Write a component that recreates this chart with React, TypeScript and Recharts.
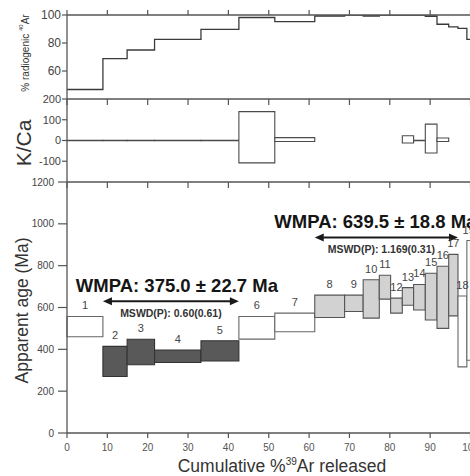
import { ComposedChart, Line, XAxis, YAxis, ReferenceArea, ReferenceLine } from 'recharts';

// heating steps: cumulative %39Ar at the start of each step
const stepStart = [0, 8.9, 14.9, 21.7, 33.2, 42.6, 51.5, 61.4, 68.8, 73.4, 77.4, 80.2, 83.1, 85.9, 88.8, 91.7, 94.6, 96.9, 99.1];
const releaseEnd = 100;
const stepEnd = [...stepStart.slice(1), releaseEnd];

// % radiogenic 40Ar per step
const radiogenic = [46.8, 68.9, 75, 82.6, 89.7, 98.2, 95.3, 99.2, 100, 99.3, 100, 100, 100, 100, 99.0, 93.4, 91.5, 90.4, 82.6];

// K/Ca error boxes (null = not shown)
const kcaLo = [-1, -1, -1, -1, -1, -108, -5, null, null, null, null, null, -12, -1, -60, -5, null, null, null];
const kcaHi = [1, 1, 1, 1, 1, 139, 14, null, null, null, null, null, 23, 1, 79, 12, null, null, null];

// apparent age boxes (Ma)
const ageLo = [460, 270, 326, 337, 345, 449, 484, 552, 581, 549, 640, 573, 611, 588, 540, 500, 560, 316, 348];
const ageHi = [557, 414, 448, 397, 441, 557, 573, 659, 659, 733, 754, 645, 695, 710, 764, 797, 854, 655, 920];

// plateaus (step numbers, 1-based)
const plateauFirst = [2, 8];
const plateauLast = [5, 17];
const plateauAge = ['375.0', '639.5'];
const plateauErr = ['22.7', '18.8'];
const plateauMswd = ['0.60(0.61)', '1.169(0.31)'];
const arrowAt = [630, 935];
// nudges of the two text lines from the arrow centre (px)
const wmpaNudge = [6, -11];
const mswdNudge = [0, -5];

const xTicks = [0, 10, 20, 30, 40, 50, 60, 70, 80, 90, 100];
const radioTicks = [60, 80, 100];
const radioMinor = [45, 50, 55, 65, 70, 75, 85, 90, 95];
const kcaTicks = [-100, 0, 100, 200];
const kcaMinor = [-150, -50, 50, 150];
const ageTicks = [0, 200, 400, 600, 800, 1000, 1200];
const ageMinor = [67, 133, 267, 333, 467, 533, 667, 733, 867, 933, 1067, 1133];

const AXIS = '#555';
const SVG_W = 480;
const RIGHT_M = SVG_W - 470.5;
const FONT = '"Liberation Sans", Arial, Helvetica, sans-serif';

const steps = stepStart.map((x0, i) => ({
  n: i + 1,
  x0,
  x1: stepEnd[i],
  radio: radiogenic[i],
  kLo: kcaLo[i],
  kHi: kcaHi[i],
  lo: ageLo[i],
  hi: ageHi[i],
}));

const radioSeries = [
  ...steps.map((s) => ({ x: s.x0, v: s.radio })),
  { x: releaseEnd, v: radiogenic[radiogenic.length - 1] },
];

function plateauOf(n: number) {
  for (let k = 0; k < plateauFirst.length; k++) {
    if (n >= plateauFirst[k] && n <= plateauLast[k]) return k;
  }
  return -1;
}

const boxFill = ['#595959', '#d2d2d2'];
const boxStroke = ['#333', '#555'];

function VTitle({ tx, ty, fs, text, sup, rest }: any) {
  return (
    <text
      transform={`translate(${tx},${ty}) rotate(-90)`}
      textAnchor="middle"
      dominantBaseline="central"
      fontSize={fs}
      fill="#333"
    >
      {text}
      {sup && (
        <tspan fontSize={fs * 0.6} dy={-fs * 0.4}>
          {sup}
        </tspan>
      )}
      {rest && <tspan dy={sup ? fs * 0.4 : 0}>{rest}</tspan>}
    </text>
  );
}

function XTitle({ tx, ty }: any) {
  return (
    <text x={tx} y={ty} textAnchor="middle" fontSize={17.5} fill="#333">
      Cumulative %<tspan fontSize={10} dy={-7}>39</tspan>
      <tspan dy={7}>Ar released</tspan>
    </text>
  );
}

function PlateauMark(props: any) {
  const { x1, x2, y1, k } = props;
  const cx = (x1 + x2) / 2;
  const h = 9;
  const w = 4;
  return (
    <g>
      <line x1={x1 + h - 1} y1={y1} x2={x2 - h + 1} y2={y1} stroke="#1a1a1a" strokeWidth={2} />
      <polygon points={`${x1},${y1} ${x1 + h},${y1 - w} ${x1 + h},${y1 + w}`} fill="#1a1a1a" />
      <polygon points={`${x2},${y1} ${x2 - h},${y1 - w} ${x2 - h},${y1 + w}`} fill="#1a1a1a" />
      <text x={cx + wmpaNudge[k]} y={y1 - 9} textAnchor="middle" fontSize={18.5} fontWeight="bold" fill="#151515">
        {`WMPA: ${plateauAge[k]} ± ${plateauErr[k]} Ma`}
      </text>
      <text x={cx + mswdNudge[k]} y={y1 + 15.5} textAnchor="middle" fontSize={10.5} fontWeight="bold" fill="#333">
        {`MSWD(P): ${plateauMswd[k]}`}
      </text>
    </g>
  );
}

const axisLine = { stroke: AXIS, strokeWidth: 1.3 };
const tickLine = { stroke: AXIS, strokeWidth: 1.2 };

// page positions of the three panels
const TOP_A = 0;
const TOP_B = 89;
const TOP_C = 172;

export default function App() {
  return (
    <div
      style={{
        position: 'fixed',
        left: 0,
        top: 0,
        width: 470,
        height: 476,
        overflow: 'hidden',
        background: '#fff',
        fontFamily: FONT,
      }}
    >
      {/* % radiogenic 40Ar */}
      <div style={{ position: 'absolute', left: 0, top: TOP_A }}>
        <ComposedChart width={SVG_W} height={106} data={radioSeries} margin={{ top: 9, right: RIGHT_M, bottom: 0, left: 0 }}>
          <XAxis xAxisId="top" orientation="top" type="number" dataKey="x" domain={[0, 100]} ticks={xTicks} interval={0}
            tickFormatter={() => ''} tickSize={5} height={6} axisLine={axisLine} tickLine={tickLine} />
          <XAxis type="number" dataKey="x" domain={[0, 100]} ticks={xTicks} interval={0}
            tickFormatter={() => ''} tickSize={6} height={7} axisLine={axisLine} tickLine={tickLine} />
          <YAxis type="number" dataKey="v" domain={[40, 100]} allowDataOverflow ticks={radioTicks} interval={0} width={67} tickSize={5} tickMargin={1}
            tick={{ fontSize: 12, fill: '#444' }} axisLine={axisLine} tickLine={tickLine}
            label={<VTitle tx={25} ty={53 - TOP_A} fs={10} text="% radiogenic " sup="40" rest="Ar" />} />
          <YAxis yAxisId="minor" dataKey="v" mirror width={0} type="number" domain={[40, 100]} allowDataOverflow ticks={radioMinor} interval={0}
            tickSize={3} tickFormatter={() => ''} axisLine={false} tickLine={tickLine} />
          {steps
            .filter((s) => s.radio >= 99 && s.radio < 100)
            .map((s) => (
              <ReferenceArea key={s.n} x1={s.x0} x2={s.x1} y1={s.radio} y2={100} fill="#8c8c8c" fillOpacity={1} stroke="none" />
            ))}
          <Line type="stepAfter" dataKey="v" dot={false} stroke="#3a3a3a" strokeWidth={1.3} isAnimationActive={false} />
        </ComposedChart>
      </div>

      {/* K/Ca */}
      <div style={{ position: 'absolute', left: 0, top: TOP_B }}>
        <ComposedChart width={SVG_W} height={100} data={steps} margin={{ top: 10, right: RIGHT_M, bottom: 0, left: 0 }}>
          <XAxis type="number" dataKey="x0" domain={[0, 100]} ticks={xTicks} interval={0}
            tickFormatter={() => ''} tickSize={6} height={7} axisLine={axisLine} tickLine={tickLine} />
          <YAxis type="number" dataKey="kHi" domain={[-200, 200]} allowDataOverflow ticks={kcaTicks} interval={0} width={67} tickSize={5} tickMargin={1}
            tick={{ fontSize: 11, fill: '#444' }} axisLine={axisLine} tickLine={tickLine}
            label={<VTitle tx={23} ty={143 - TOP_B} fs={21} text="K/Ca" />} />
          <YAxis yAxisId="minor" dataKey="kHi" mirror width={0} type="number" domain={[-200, 200]} allowDataOverflow ticks={kcaMinor} interval={0}
            tickSize={3} tickFormatter={() => ''} axisLine={false} tickLine={tickLine} />
          {steps
            .filter((s) => s.kLo !== null && s.kHi !== null)
            .map((s) => (
              <ReferenceArea key={s.n} x1={s.x0} x2={s.x1} y1={s.kLo as number} y2={s.kHi as number}
                fill="#fff" fillOpacity={1} stroke="#4a4a4a" strokeWidth={1.1} />
            ))}
        </ComposedChart>
      </div>

      {/* apparent age spectrum */}
      <div style={{ position: 'absolute', left: 0, top: TOP_C }}>
        <ComposedChart width={SVG_W} height={306} data={steps} margin={{ top: 10, right: RIGHT_M, bottom: 0, left: 0 }}>
          <XAxis type="number" dataKey="x0" domain={[0, 100]} ticks={xTicks} interval={0} height={45}
            tickSize={5} tickMargin={6} tick={{ fontSize: 10, fill: '#555' }} axisLine={axisLine} tickLine={tickLine}
            label={<XTitle tx={282} ty={472 - TOP_C} />} />
          <YAxis type="number" dataKey="hi" domain={[0, 1200]} allowDataOverflow ticks={ageTicks} interval={0} width={67} tickSize={9} tickMargin={4}
            tick={{ fontSize: 10, fill: '#444' }} axisLine={axisLine} tickLine={tickLine}
            label={<VTitle tx={22} ty={310.5 - TOP_C} fs={17.5} text="Apparent age (Ma)" />} />
          <YAxis yAxisId="minor" dataKey="hi" mirror width={0} type="number" domain={[0, 1200]} allowDataOverflow ticks={ageMinor} interval={0}
            tickSize={3} tickFormatter={() => ''} axisLine={false} tickLine={tickLine} />
          {steps.map((s) => {
            const k = plateauOf(s.n);
            return (
              <ReferenceArea
                key={s.n}
                x1={s.x0}
                x2={s.x1}
                y1={s.lo}
                y2={s.hi}
                fill={k >= 0 ? boxFill[k] : '#fff'}
                fillOpacity={1}
                stroke={k >= 0 ? boxStroke[k] : '#666'}
                strokeWidth={1.1}
                label={{ value: String(s.n), position: 'top', offset: 7, fontSize: 11, fill: '#444' }}
              />
            );
          })}
          {plateauFirst.map((first, k) => (
            <ReferenceLine
              key={k}
              segment={[
                { x: stepStart[first - 1], y: arrowAt[k] },
                { x: stepEnd[plateauLast[k] - 1], y: arrowAt[k] },
              ]}
              shape={(p: any) => <PlateauMark {...p} k={k} />}
            />
          ))}
        </ComposedChart>
      </div>
    </div>
  );
}
